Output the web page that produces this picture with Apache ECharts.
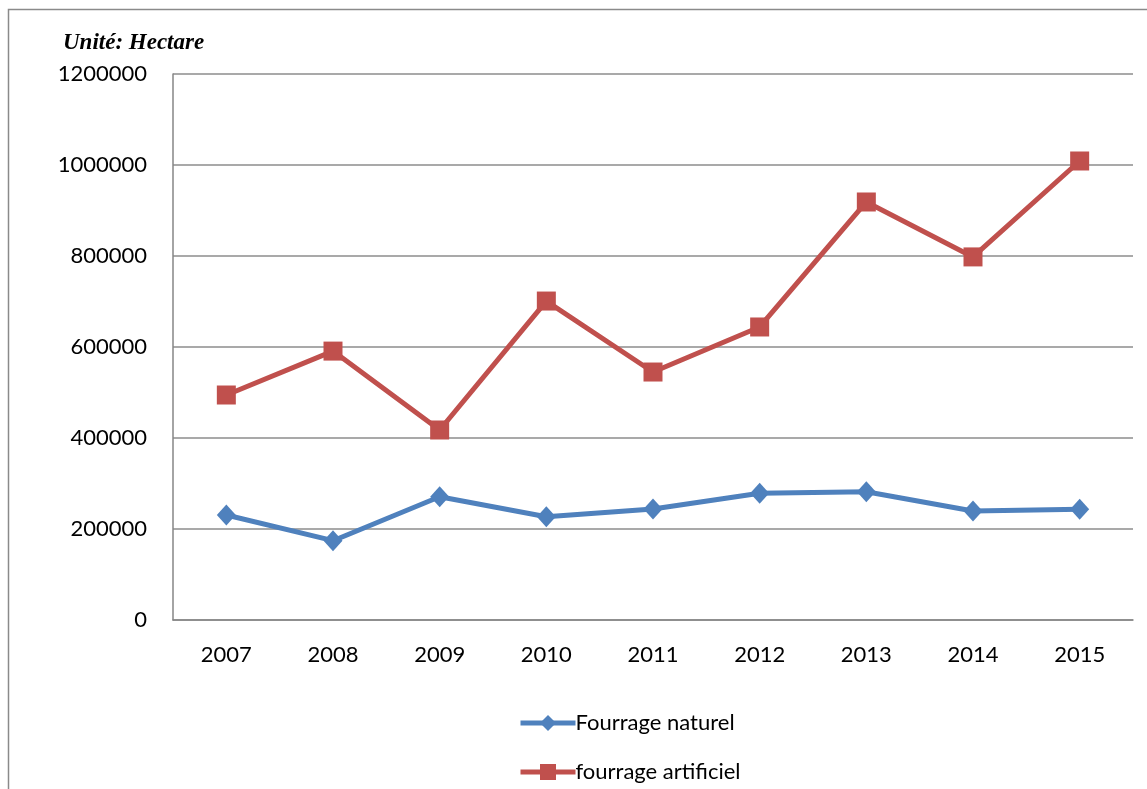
<!DOCTYPE html>
<html>
<head>
<meta charset="utf-8">
<script src="https://cdn.jsdelivr.net/npm/echarts@6/dist/echarts.min.js"></script>
<style>
  html, body { margin: 0; padding: 0; background: #ffffff; }
  #chart { width: 1147px; height: 789px; }
</style>
</head>
<body>
<div id="chart"></div>
<script>
// Years on the horizontal axis
const years = ['2007', '2008', '2009', '2010', '2011', '2012', '2013', '2014', '2015'];
// Surfaces in hectares
const fourrageNaturel = [230800, 174300, 271000, 227000, 244000, 278500, 282000, 239600, 243300];
const fourrageArtificiel = [494500, 591000, 417600, 701000, 545000, 644000, 918700, 798000, 1008800];
// Value axis range
const yMin = 0;
const yMax = 1200000;
const yStep = 200000;

const labelFont = 'Lato, "Open Sans", sans-serif';
const blue = '#4F81BD';
const red = '#C0504D';

function legendBlock(name, top) {
  return {
    orient: 'vertical',
    left: 513,
    top: top,
    itemWidth: 55,
    itemHeight: 20,
    lineStyle: { width: 5 },
    textStyle: { fontFamily: labelFont, fontSize: 22, color: '#000000', padding: [0, 0, 0, -5] },
    data: [name]
  };
}

const chart = echarts.init(document.getElementById('chart'), null, { renderer: 'canvas' });

chart.setOption({
  animation: false,
  backgroundColor: '#ffffff',
  graphic: [
    {
      type: 'rect',
      shape: { x: 8.5, y: 9.5, width: 1300, height: 900 },
      style: { fill: 'none', stroke: '#8a8a8a', lineWidth: 1.5 },
      silent: true
    },
    {
      type: 'text',
      left: 63,
      top: 32,
      style: {
        text: 'Unité: Hectare',
        font: 'italic bold 23px "Liberation Serif", "DejaVu Serif", serif',
        fill: '#000000'
      }
    }
  ],
  grid: { left: 173, right: 14, top: 74, bottom: 169, containLabel: false },
  legend: [
    legendBlock('Fourrage naturel', 707),
    legendBlock('fourrage artificiel', 756)
  ],
  xAxis: {
    type: 'category',
    data: years,
    boundaryGap: true,
    axisLine: { lineStyle: { color: '#868686', width: 1.5 } },
    axisTick: { show: false },
    axisLabel: { fontFamily: labelFont, fontSize: 22, color: '#000000', margin: 24 },
    splitLine: { show: false }
  },
  yAxis: {
    type: 'value',
    min: yMin,
    max: yMax,
    interval: yStep,
    axisLine: { show: true, lineStyle: { color: '#868686', width: 1.5 } },
    axisTick: { show: false },
    axisLabel: {
      fontFamily: labelFont, fontSize: 22, color: '#000000', margin: 26,
      formatter: function (v) { return String(v); }
    },
    splitLine: { show: true, lineStyle: { color: '#8c8c8c', width: 1.5 } }
  },
  series: [
    {
      name: 'Fourrage naturel',
      type: 'line',
      data: fourrageNaturel,
      symbol: 'diamond',
      symbolSize: [19, 21],
      lineStyle: { color: blue, width: 5 },
      itemStyle: { color: blue },
      z: 3
    },
    {
      name: 'fourrage artificiel',
      type: 'line',
      data: fourrageArtificiel,
      symbol: 'rect',
      symbolSize: 19,
      lineStyle: { color: red, width: 5 },
      itemStyle: { color: red },
      z: 3
    }
  ]
});
</script>
</body>
</html>
